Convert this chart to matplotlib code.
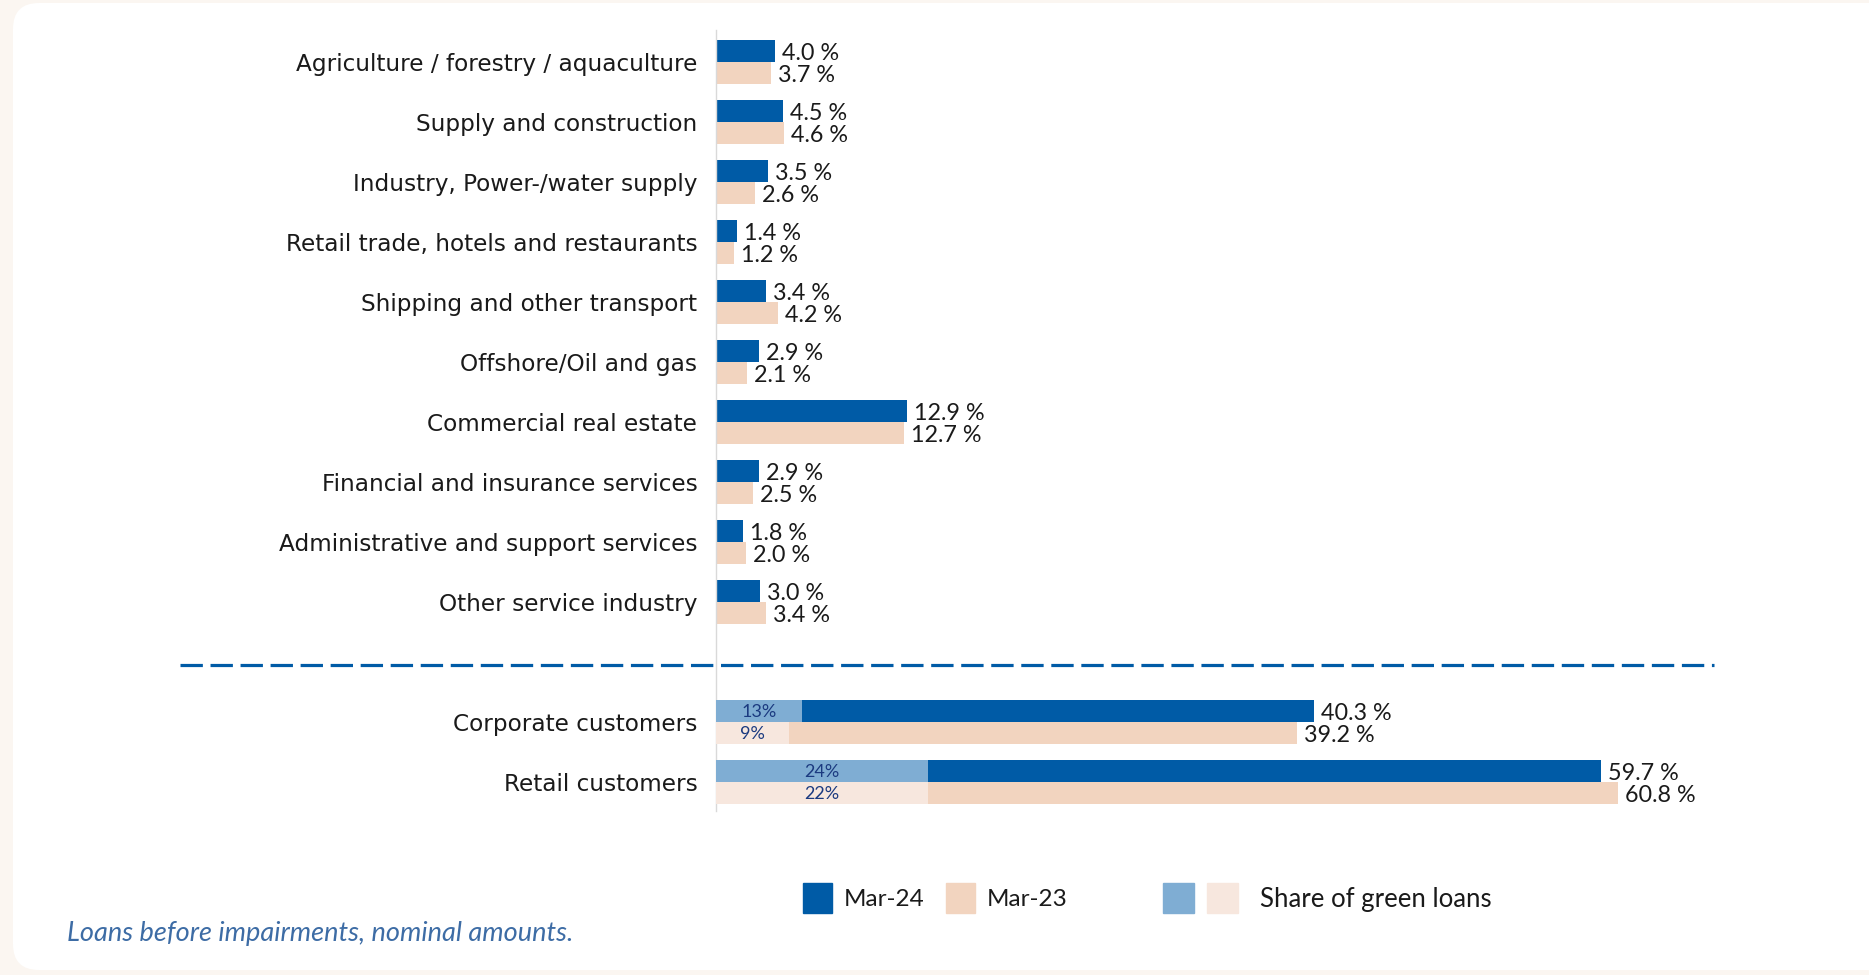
import numpy as np
import matplotlib
matplotlib.use('Agg')
import matplotlib.pyplot as plt
from matplotlib.patches import FancyBboxPatch, Patch
from matplotlib.legend_handler import HandlerTuple
from matplotlib.transforms import blended_transform_factory

# sector breakdown (share of loans, %)
sectors = ['Agriculture / forestry / aquaculture', 'Supply and construction',
           'Industry, Power-/water supply', 'Retail trade, hotels and restaurants',
           'Shipping and other transport', 'Offshore/Oil and gas',
           'Commercial real estate', 'Financial and insurance services',
           'Administrative and support services', 'Other service industry']
sector_mar24 = [4.0, 4.5, 3.5, 1.4, 3.4, 2.9, 12.9, 2.9, 1.8, 3.0]
sector_mar23 = [3.7, 4.6, 2.6, 1.2, 4.2, 2.1, 12.7, 2.5, 2.0, 3.4]

# customer groups
groups = ['Corporate customers', 'Retail customers']
group_mar24 = [40.3, 59.7]
group_mar23 = [39.2, 60.8]
# share of green loans (label) and length of the green part of the bar as drawn
green_label24 = ['13%', '24%']
green_label23 = ['9%', '22%']
green_len24 = [5.8, 14.3]
green_len23 = [4.9, 14.3]

blue = '#005BA6'
peach = '#F2D4BF'
light_blue = '#7FADD3'
light_peach = '#F7E7DE'
navy = '#1B3A80'
ink = '#1a1a1a'

W, H = 1869, 975
fig = plt.figure(figsize=(W / 100, H / 100), dpi=100, facecolor='#FBF6F1')

# white card behind everything
card = FancyBboxPatch((13, 5), W + 20, H - 8, boxstyle='round,pad=0,rounding_size=26',
                      transform=None, facecolor='white', edgecolor='none', zorder=-5)
fig.patches.append(card)

px = 14.83  # pixels per percent
ax = fig.add_axes([716 / W, 1 - 811 / H, (W - 716) / W, (811 - 30) / H])
ax.set_zorder(2)
ax.set_facecolor('none')
ax.set_xlim(0, (W - 716) / px)
ax.set_ylim(12.49, -0.525)

pos_s = np.arange(len(sectors))
pos_g = np.arange(len(groups)) + len(sectors) + 1
h = 22 / 60

ax.barh(pos_s - h / 2, sector_mar24, height=h, color=blue, zorder=2)
ax.barh(pos_s + h / 2, sector_mar23, height=h, color=peach, zorder=2)
ax.barh(pos_g - h / 2, group_mar24, height=h, color=blue, zorder=2)
ax.barh(pos_g + h / 2, group_mar23, height=h, color=peach, zorder=2)
ax.barh(pos_g - h / 2, green_len24, height=h, color=light_blue, zorder=3)
ax.barh(pos_g + h / 2, green_len23, height=h, color=light_peach, zorder=3)

off = 7 / px
dy = 2.5 / 60  # small nudge so the digits sit centred on the bars
vals24 = sector_mar24 + group_mar24
vals23 = sector_mar23 + group_mar23
allpos = list(pos_s) + list(pos_g)
for p, v24, v23 in zip(allpos, vals24, vals23):
    ax.text(v24 + off, p - h / 2 + dy, f'{v24:.1f} %', va='center', ha='left',
            fontsize=16.8, family='Lato', color=ink)
    ax.text(v23 + off, p + h / 2 + dy, f'{v23:.1f} %', va='center', ha='left',
            fontsize=16.8, family='Lato', color=ink)

for p, l24, l23, g24, g23 in zip(pos_g, green_label24, green_label23, green_len24, green_len23):
    ax.text(g24 / 2, p - h / 2 + dy / 2, l24, va='center', ha='center', fontsize=13,
            family='Lato', color=navy, zorder=4)
    ax.text(g23 / 2, p + h / 2 + dy / 2, l23, va='center', ha='center', fontsize=13,
            family='Lato', color=navy, zorder=4)

ax.set_yticks(allpos)
ax.set_yticklabels(sectors + groups, fontsize=16.7, family='DejaVu Sans', color=ink)
ax.tick_params(axis='y', length=0, pad=13.5)
ax.set_xticks([])
for s in ['top', 'right', 'bottom']:
    ax.spines[s].set_visible(False)
ax.spines['left'].set_color('#D9D9D9')
ax.spines['left'].set_linewidth(1)

# dashed separator between sectors and customer groups
tr = blended_transform_factory(fig.transFigure, ax.transData)
sep = len(sectors) + 0.06
ax.plot([180 / W, 1714 / W], [sep, sep], transform=tr, clip_on=False,
        color=blue, linewidth=2.3, linestyle=(0, (7.0, 2.4)), zorder=2)

# legend
fs = 18.5
fpx = fs / 72 * 100
hh = (30 - 0.245 * fpx) / (0.65 * fpx)
fs1 = 17.5
fpx1 = fs1 / 72 * 100
hh1 = (30 - 0.245 * fpx1) / (0.65 * fpx1)
leg1 = fig.legend(handles=[Patch(color=blue), Patch(color=peach)], labels=['Mar-24', 'Mar-23'],
                  loc='center left', bbox_to_anchor=(803 / W, 1 - 898 / H), ncol=2,
                  frameon=False, borderpad=0, borderaxespad=0, handlelength=29 / fpx1,
                  handleheight=hh1, handletextpad=12 / fpx1, columnspacing=21 / fpx1,
                  prop={'family': 'Lato', 'size': fs1})
for t in leg1.get_texts():
    t.set_color(ink)
leg2 = fig.legend(handles=[(Patch(color=light_blue), Patch(color=light_peach))],
                  labels=['Share of green loans'],
                  handler_map={tuple: HandlerTuple(ndivide=None, pad=13 / fpx)},
                  loc='center left', bbox_to_anchor=(1163 / W, 1 - 898 / H),
                  frameon=False, borderpad=0, borderaxespad=0, handlelength=75 / fpx,
                  handleheight=hh, handletextpad=22 / fpx,
                  prop={'family': 'Lato', 'size': fs})
for t in leg2.get_texts():
    t.set_color(ink)

fig.text(67 / W, 1 - 933.5 / H, 'Loans before impairments, nominal amounts.', ha='left',
         va='center', fontsize=19.5, family='Lato', style='italic', color='#3D6CA5')

fig.savefig('out.png', dpi=100, facecolor=fig.get_facecolor())
